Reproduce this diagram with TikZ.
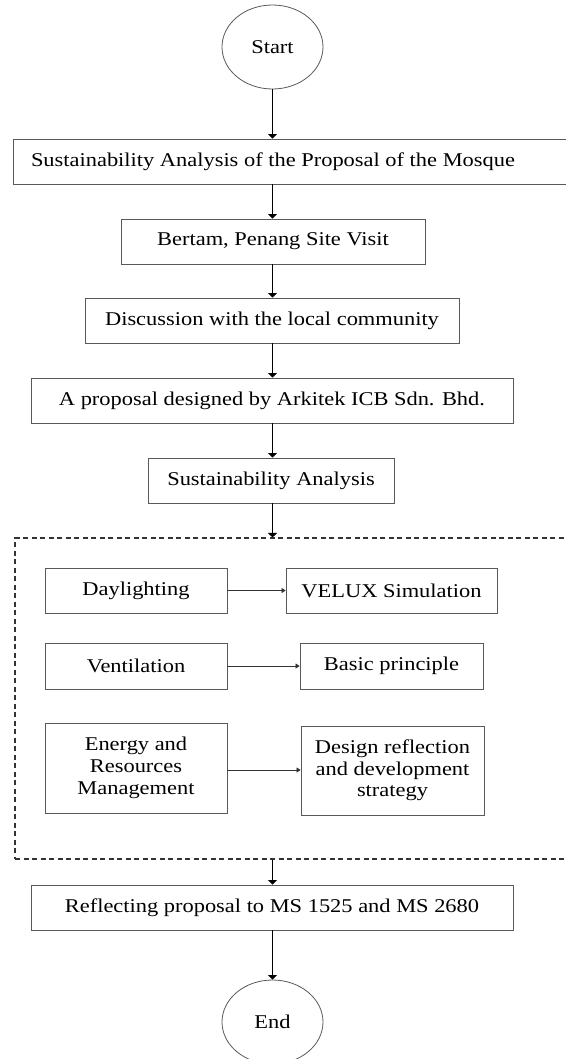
\documentclass[tikz,border=0pt]{standalone}
\usepackage{fontspec}
\setmainfont{Liberation Serif}[FakeStretch=1.15]
\usetikzlibrary{shapes,arrows.meta,positioning}

\tikzset{
    stepbox/.style={rectangle, draw=black!65, line width=0.8pt, minimum height=45pt, inner sep=2pt, align=center},
    termbox/.style={ellipse, draw=black!65, line width=0.8pt, minimum width=101pt, minimum height=84pt},
    flow/.style={line width=1.1pt, -{Triangle[width=9pt,length=4.5pt]}},
    side/.style={line width=0.7pt, black!80, -{Triangle[width=5pt,length=4pt]}}
}

\begin{document}
\begin{tikzpicture}[x=1pt, y=-1pt, font=\fontsize{19.5}{21.7}\selectfont]
    \useasboundingbox (0,0) rectangle (565,1059);

    % Main flow
    \node[termbox] (start) at (272.5,47) {Start};
    \node[stepbox, draw=none, minimum width=482pt] (analysis) at (273,161.5) {Sustainability Analysis of the Proposal of the Mosque};
    \draw[black!65, line width=0.8pt] (13,139) rectangle (570,184);
    \node[stepbox, minimum width=304pt] (visit) at (273,241.5) {Bertam, Penang Site Visit};
    \node[stepbox, minimum width=374pt] (discuss) at (272,320.5) {Discussion with the local community};
    \node[stepbox, minimum width=482pt] (proposal) at (272,400.5) {A proposal designed by Arkitek ICB Sdn. Bhd.};
    \node[stepbox, minimum width=246pt] (sust) at (271,480.5) {Sustainability Analysis};

    % Dashed group
    \node[draw=black!80, dash pattern=on 5pt off 3.5pt, line width=1.1pt, minimum width=560pt, minimum height=321pt] (group) at (295,698.5) {};
    \node[stepbox, minimum width=182pt] (day) at (136,590.5) {Daylighting};
    \node[stepbox, minimum width=211pt] (velux) at (391.5,590.5) {VELUX Simulation};
    \node[stepbox, minimum width=182pt, minimum height=46pt] (vent) at (136,666) {Ventilation};
    \node[stepbox, minimum width=183pt, minimum height=46pt] (basic) at (391.5,666) {Basic principle};
    \node[stepbox, minimum width=182pt, minimum height=90pt] (energy) at (136,768) {Energy and\\Resources\\Management};
    \node[stepbox, minimum width=183pt, minimum height=89pt] (design) at (392.5,770.5) {Design reflection\\and development\\strategy};

    % End of flow
    \node[stepbox, minimum width=482pt] (reflect) at (272,907.5) {Reflecting proposal to MS 1525 and MS 2680};
    \node[termbox] (end) at (272.5,1022) {End};

    % Connectors
    \draw[flow] (start) -- (start.south |- analysis.north);
    \draw[flow] (analysis.south -| start.south) -- (start.south |- visit.north);
    \draw[flow] (visit.south -| start.south) -- (start.south |- discuss.north);
    \draw[flow] (discuss.south -| start.south) -- (start.south |- proposal.north);
    \draw[flow] (proposal.south -| start.south) -- (start.south |- sust.north);
    \draw[flow] (sust.south -| start.south) -- (start.south |- group.north);
    \draw[flow] (group.south -| start.south) -- (start.south |- reflect.north);
    \draw[flow] (reflect.south -| start.south) -- (end);
    \draw[side] (day) -- (velux);
    \draw[side] (vent) -- (basic);
    \draw[side] (energy.east |- 0,770) -- (design.west |- 0,770);
\end{tikzpicture}
\end{document}
